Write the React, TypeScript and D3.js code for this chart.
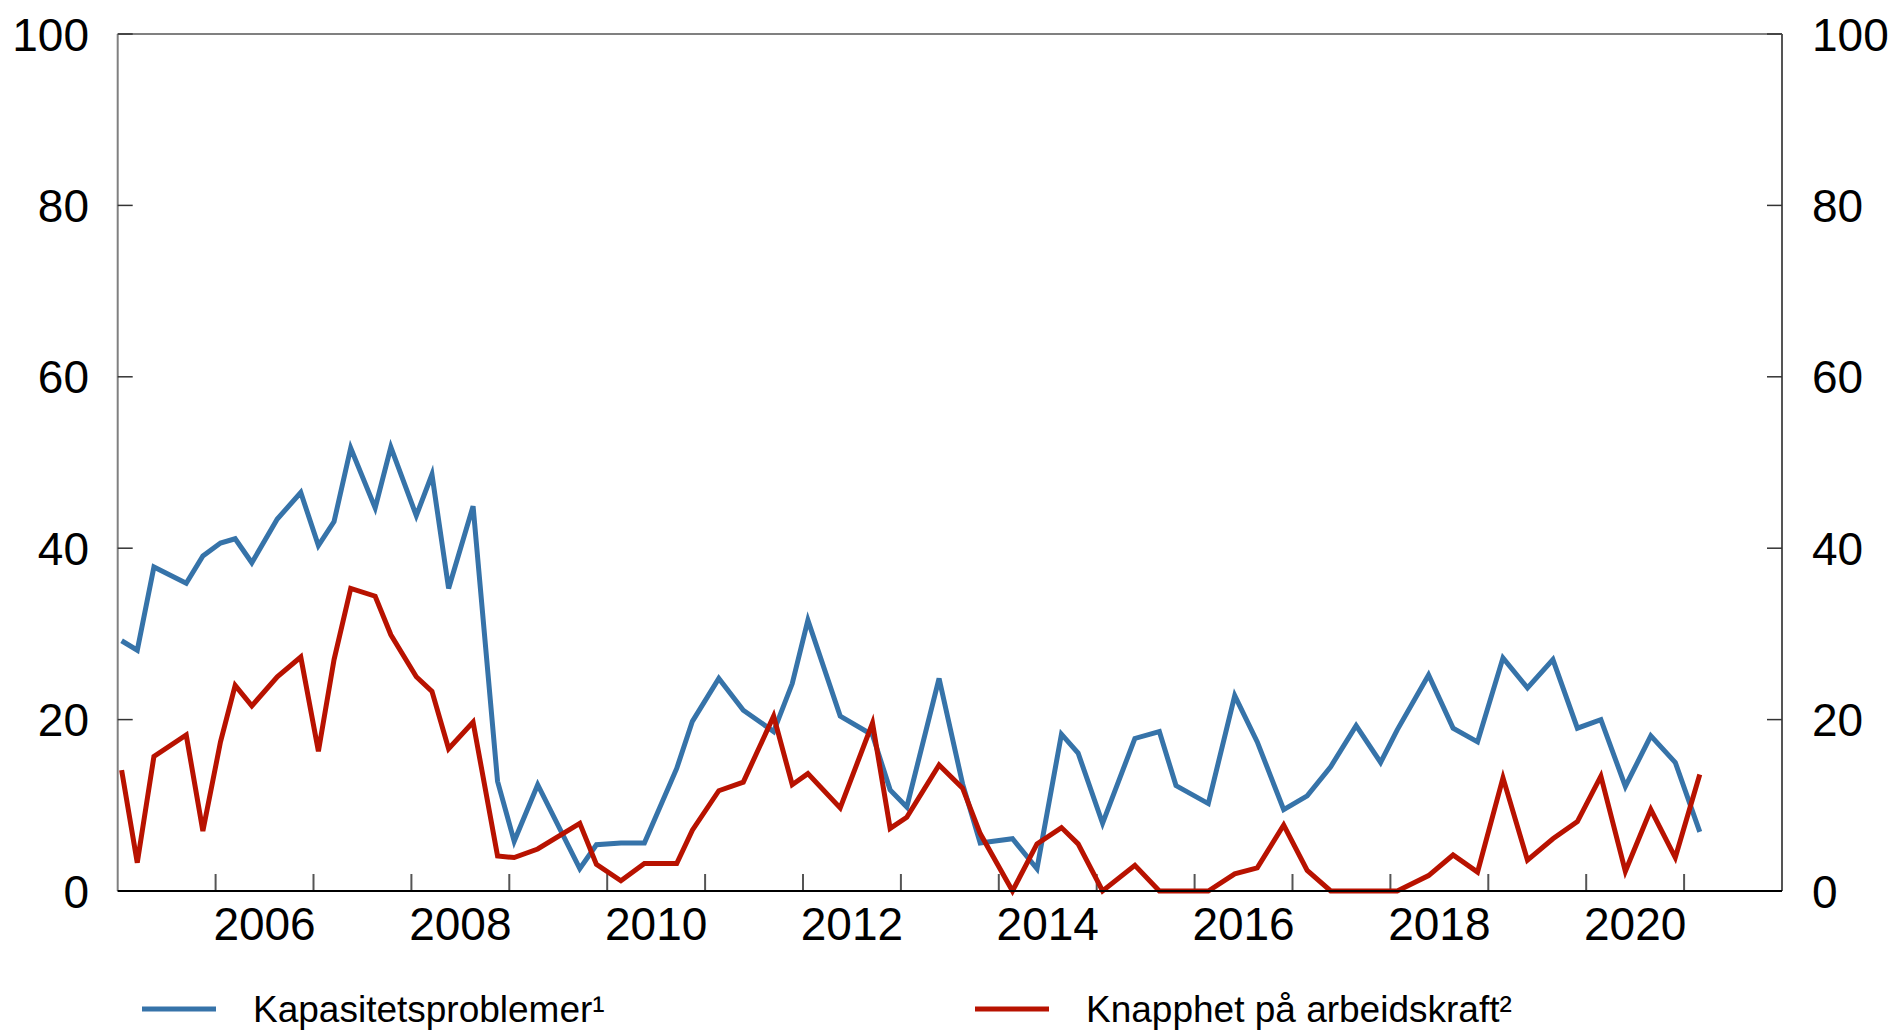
import * as d3 from 'd3';
import React from 'react';

// survey dates as fractional years
const dates = [
  2005.04, 2005.2, 2005.37, 2005.7, 2005.87,
  2006.05, 2006.2, 2006.37, 2006.63, 2006.87,
  2007.05, 2007.21, 2007.38, 2007.63, 2007.79,
  2008.05, 2008.21, 2008.38, 2008.63, 2008.88,
  2009.05, 2009.29, 2009.72, 2009.89,
  2010.14, 2010.38, 2010.71, 2010.87,
  2011.14, 2011.39, 2011.7, 2011.89,
  2012.05, 2012.38, 2012.71, 2012.89,
  2013.06, 2013.39, 2013.63, 2013.81,
  2014.14, 2014.39, 2014.64, 2014.81,
  2015.06, 2015.39, 2015.64, 2015.81,
  2016.14, 2016.41, 2016.64, 2016.91,
  2017.15, 2017.39, 2017.65, 2017.9,
  2018.07, 2018.39, 2018.64, 2018.89,
  2019.15, 2019.4, 2019.66, 2019.91,
  2020.15, 2020.4, 2020.66, 2020.91,
  2021.16,
];

const kapasitet = [
  29.2, 28.1, 37.8, 35.9, 39.1,
  40.6, 41.1, 38.3, 43.4, 46.5,
  40.3, 43.1, 51.7, 44.7, 51.8,
  43.8, 48.6, 35.3, 44.9, 12.8,
  5.8, 12.4, 2.6, 5.4,
  5.6, 5.6, 14.3, 19.8,
  24.8, 21.1, 18.6, 24.2,
  31.6, 20.4, 18.2, 11.8,
  9.8, 24.8, 12.5, 5.6,
  6.1, 2.6, 18.3, 16.1,
  7.9, 17.8, 18.6, 12.3,
  10.2, 22.8, 17.4, 9.5,
  11.1, 14.5, 19.3, 15.0,
  18.8, 25.2, 19.0, 17.4,
  27.2, 23.7, 27.0, 19.0,
  20.0, 12.2, 18.1, 15.0,
  6.9,
];

const knapphet = [
  14.1, 3.3, 15.7, 18.2, 7.0,
  17.4, 24.0, 21.6, 25.0, 27.3,
  16.3, 27.0, 35.3, 34.4, 29.9,
  25.0, 23.3, 16.6, 19.7, 4.1,
  3.9, 4.9, 7.9, 3.1,
  1.2, 3.2, 3.2, 7.1,
  11.7, 12.7, 20.4, 12.4,
  13.7, 9.7, 19.6, 7.3,
  8.6, 14.7, 12.0, 6.7,
  0, 5.5, 7.4, 5.5,
  0, 3.0, 0, 0,
  0, 2.0, 2.7, 7.7,
  2.4, 0, 0, 0,
  0, 1.8, 4.2, 2.2,
  13.2, 3.6, 6.1, 8.1,
  13.4, 2.3, 9.5, 3.9,
  13.6,
];

const yTicks = [0, 20, 40, 60, 80, 100];
const yearTicks = d3.range(2006, 2022);
const yearLabels = [2006, 2008, 2010, 2012, 2014, 2016, 2018, 2020];

const series = [
  { name: 'Kapasitetsproblemer¹', values: kapasitet, color: '#3673a9' },
  { name: 'Knapphet på arbeidskraft²', values: knapphet, color: '#b81200' },
];

const W = 1890;
const H = 1031;
const margin = { top: 34, right: 108, bottom: 140, left: 117.7 };
const font = '"Liberation Sans", Arial, sans-serif';

const App: React.FC = () => {
  const x = d3.scaleLinear().domain([2005, 2022]).range([margin.left, W - margin.right]);
  const y = d3.scaleLinear().domain([0, 100]).range([H - margin.bottom, margin.top]);

  const line = (vals: number[]) =>
    d3.line<number>()
      .x((_, i) => x(dates[i]))
      .y(d => y(d))(vals) || '';

  const x0 = x.range()[0];
  const x1 = x.range()[1];
  const yb = y(0);
  const yt = y(100);

  return (
    <div style={{ position: 'fixed', left: 0, top: 0 }}>
      <svg width={W} height={H} style={{ display: 'block', background: '#fff' }}>
        {/* frame */}
        <line x1={x0} x2={x0} y1={yt} y2={yb} stroke="#808080" strokeWidth={2} />
        <line x1={x1} x2={x1} y1={yt} y2={yb} stroke="#555" strokeWidth={2} />
        <line x1={x0} x2={x1} y1={yt} y2={yt} stroke="#808080" strokeWidth={2} />

        {/* y ticks both sides */}
        {yTicks.map(t => (
          <g key={t}>
            <line x1={x0} x2={x0 + 15} y1={y(t)} y2={y(t)} stroke="#333" strokeWidth={1.5} />
            <line x1={x1 - 15} x2={x1} y1={y(t)} y2={y(t)} stroke="#333" strokeWidth={1.5} />
            <text x={89} y={y(t)} dy="0.36em" textAnchor="end" fontSize={46} fontFamily={font} fill="#000">{t}</text>
            <text x={1812} y={y(t)} dy="0.36em" textAnchor="start" fontSize={46} fontFamily={font} fill="#000">{t}</text>
          </g>
        ))}

        {/* x ticks */}
        {yearTicks.map(yr => (
          <line key={yr} x1={x(yr)} x2={x(yr)} y1={yb} y2={yb - 17} stroke="#555" strokeWidth={2} />
        ))}
        {yearLabels.map(yr => (
          <text key={yr} x={x(yr + 0.5)} y={940} textAnchor="middle" fontSize={46} fontFamily={font} fill="#000">{yr}</text>
        ))}

        {/* series */}
        {series.map(s => (
          <path key={s.name} d={line(s.values)} fill="none" stroke={s.color} strokeWidth={5} strokeLinejoin="miter" strokeMiterlimit={4} />
        ))}

        <line x1={x0} x2={x1} y1={yb} y2={yb} stroke="#000" strokeWidth={2} />

        {/* legend */}
        {series.map((s, i) => {
          const lx = i === 0 ? 142 : 975;
          return (
            <g key={s.name}>
              <line x1={lx} x2={lx + 74} y1={1009} y2={1009} stroke={s.color} strokeWidth={5} />
              <text x={lx + 111} y={1022} fontSize={37} fontFamily={font} fill="#000">{s.name}</text>
            </g>
          );
        })}
      </svg>
    </div>
  );
};

export default App;
